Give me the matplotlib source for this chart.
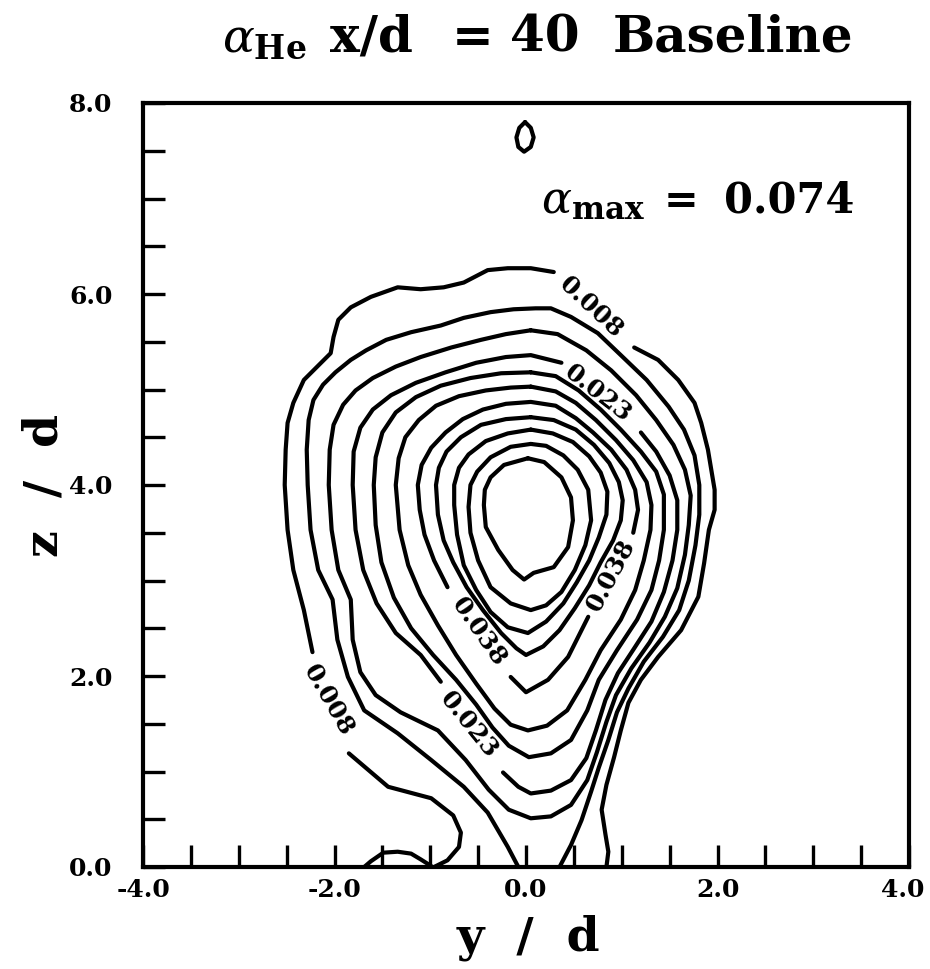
import numpy as np
import matplotlib
matplotlib.use('Agg')
import matplotlib.pyplot as plt
import matplotlib.transforms as mtransforms

plt.rcParams['font.family'] = ['DejaVu Serif']
plt.rcParams['mathtext.fontset'] = 'dejavuserif'
plt.rcParams['axes.unicode_minus'] = False

nan = np.nan

# contour level values (helium mole fraction)
levels = [0.008, 0.013, 0.018, 0.023, 0.028, 0.033, 0.038, 0.043, 0.048, 0.053, 0.058]

# traced contour lines, (y/d, z/d) pairs; (nan, nan) = gap for a label
c008 = [(-0.96,0.00),(-0.82,0.07),(-0.70,0.21),(-0.68,0.36),(-0.76,0.54),(-0.99,0.72),(-1.44,0.84),(-1.85,1.19),(nan,nan),
        (-2.23,2.25),(-2.32,2.69),(-2.43,3.11),(-2.49,3.53),(-2.52,4.00),(-2.51,4.37),(-2.49,4.65),(-2.43,4.86),(-2.32,5.10),
        (-2.18,5.24),(-2.04,5.38),(-2.01,5.55),(-1.96,5.73),(-1.83,5.86),(-1.62,5.97),(-1.34,6.07),(-1.10,6.05),(-0.86,6.07),
        (-0.65,6.12),(-0.40,6.25),(-0.19,6.27),(0.05,6.27),(0.29,6.23),(nan,nan),
        (1.13,5.44),(1.38,5.31),(1.59,5.10),(1.76,4.86),(1.83,4.65),(1.90,4.37),(1.97,3.95),(1.97,3.74),(1.91,3.53),(1.86,3.18),
        (1.80,2.83),(1.62,2.48),(1.38,2.20),(1.20,1.96),(1.07,1.72),(0.99,1.43),(0.92,1.15),(0.84,0.86),(0.79,0.60),(0.83,0.34),
        (0.86,0.16),(0.84,0.00)]
c008_wall = [(-1.69,0.00),(-1.62,0.06),(-1.49,0.15),(-1.34,0.16),(-1.20,0.14),(-1.10,0.08),(-0.99,0.01)]
c013 = [(-0.08,0.00),(-0.19,0.21),(-0.40,0.57),(-0.65,0.84),(-0.99,1.12),(-1.34,1.40),(-1.69,1.64),(-1.86,1.99),(-1.97,2.38),
        (-2.02,2.80),(-2.17,3.11),(-2.25,3.53),(-2.28,4.00),(-2.29,4.37),(-2.27,4.68),(-2.22,4.89),(-2.12,5.05),(-1.99,5.18),
        (-1.83,5.31),(-1.67,5.41),(-1.46,5.52),(-1.20,5.60),(-0.89,5.67),(-0.65,5.75),(-0.37,5.81),(-0.13,5.84),(0.10,5.85),
        (0.26,5.85),(0.47,5.76),(0.75,5.59),(0.99,5.36),(1.26,5.10),(1.49,4.82),(1.65,4.58),(1.76,4.31),(1.81,4.00),(1.81,3.69),
        (1.77,3.37),(1.70,3.00),(1.60,2.69),(1.43,2.41),(1.23,2.15),(1.07,1.87),(0.95,1.62),(0.86,1.33),(0.76,1.04),(0.68,0.79),
        (0.58,0.49),(0.47,0.23),(0.35,0.00)]
c018 = [(0.05,5.62),(0.33,5.58),(0.63,5.41),(0.89,5.20),(1.15,4.94),(1.36,4.68),(1.54,4.42),(1.66,4.16),(1.72,3.89),(1.70,3.58),
        (1.66,3.27),(1.58,2.92),(1.45,2.62),(1.29,2.35),(1.10,2.08),(0.94,1.80),(0.84,1.52),(0.74,1.20),(0.64,0.91),(0.47,0.65),
        (0.26,0.53),(0.05,0.51),(-0.18,0.60),(-0.39,0.81),(-0.63,1.12),(-0.92,1.43),(-1.31,1.62),(-1.57,1.80),(-1.73,2.04),
        (-1.81,2.38),(-1.83,2.80),(-1.96,3.11),(-2.03,3.53),(-2.06,4.00),(-2.05,4.37),(-2.01,4.63),(-1.91,4.84),(-1.78,4.99),
        (-1.60,5.12),(-1.36,5.24),(-1.10,5.34),(-0.78,5.44),(-0.47,5.52),(-0.21,5.58),(0.05,5.62)]
c023 = [(1.20,4.55),(1.36,4.35),(1.50,4.10),(1.58,3.84),(1.58,3.53),(1.53,3.21),(1.44,2.88),(1.31,2.57),(1.13,2.29),(0.96,2.03),
        (0.83,1.75),(0.73,1.43),(0.63,1.14),(0.47,0.91),(0.26,0.80),(0.05,0.77),(-0.08,0.84),(-0.24,0.99),(nan,nan),
        (-0.89,1.94),(-1.10,2.22),(-1.36,2.45),(-1.56,2.76),(-1.70,3.11),(-1.78,3.53),(-1.81,4.00),(-1.80,4.35),(-1.73,4.60),
        (-1.60,4.79),(-1.41,4.94),(-1.15,5.07),(-0.84,5.18),(-0.52,5.28),(-0.21,5.34),(0.05,5.36),(0.37,5.28)]
c028 = [(0.05,5.18),(0.31,5.14),(0.55,4.99),(0.78,4.79),(0.99,4.58),(1.20,4.35),(1.36,4.14),(1.44,3.90),(1.44,3.53),(1.39,3.21),
        (1.31,2.90),(1.16,2.59),(0.95,2.27),(0.76,1.96),(0.64,1.64),(0.47,1.33),(0.26,1.19),(0.03,1.15),(-0.18,1.27),(-0.35,1.46),
        (-0.52,1.70),(-0.73,1.96),(-0.97,2.22),(-1.20,2.50),(-1.38,2.82),(-1.51,3.19),(-1.57,3.58),(-1.59,4.00),(-1.57,4.29),
        (-1.50,4.55),(-1.36,4.76),(-1.15,4.92),(-0.89,5.04),(-0.58,5.12),(-0.26,5.17),(0.05,5.18)]
c033 = [(0.05,5.03),(0.31,4.98),(0.52,4.86),(0.73,4.68),(0.94,4.47),(1.12,4.26),(1.26,4.03),(1.31,3.79),(1.30,3.53),(1.23,3.21),
        (1.14,2.90),(0.99,2.59),(0.78,2.27),(0.62,1.96),(0.43,1.64),(0.22,1.48),(0.02,1.43),(-0.16,1.49),(-0.33,1.66),(-0.52,1.92),
        (-0.73,2.22),(-0.92,2.53),(-1.10,2.85),(-1.23,3.16),(-1.32,3.53),(-1.36,4.00),(-1.33,4.28),(-1.26,4.50),(-1.12,4.68),
        (-0.94,4.83),(-0.70,4.93),(-0.42,4.99),(-0.16,5.02),(0.05,5.03)]
c038 = [(-0.16,1.99),(0.00,1.83),(0.23,1.96),(0.44,2.20),(0.65,2.62),(nan,nan),
        (1.12,3.50),(1.17,3.74),(1.14,3.95),(1.05,4.16),(0.89,4.37),(0.70,4.55),(0.52,4.70),(0.31,4.83),(0.05,4.87),(-0.21,4.85),
        (-0.45,4.79),(-0.66,4.69),(-0.84,4.55),(-0.99,4.39),(-1.09,4.21),(-1.13,4.00),(-1.11,3.74),(-1.06,3.48),(-0.96,3.21),
        (-0.82,2.93)]
c043 = [(0.05,4.71),(0.29,4.68),(0.52,4.58),(0.71,4.42),(0.87,4.23),(0.97,4.03),(1.01,3.84),(0.99,3.63),(0.91,3.42),(0.78,3.19),
        (0.66,2.95),(0.51,2.71),(0.35,2.48),(0.18,2.31),(0.00,2.22),(-0.10,2.29),(-0.26,2.45),(-0.45,2.69),(-0.62,2.93),(-0.76,3.19),
        (-0.86,3.42),(-0.92,3.69),(-0.94,4.00),(-0.91,4.18),(-0.83,4.35),(-0.68,4.50),(-0.47,4.63),(-0.21,4.69),(0.05,4.71)]
c048 = [(0.05,4.58),(0.28,4.54),(0.49,4.45),(0.66,4.30),(0.78,4.13),(0.85,3.93),(0.84,3.69),(0.76,3.45),(0.66,3.21),(0.53,2.98),
        (0.39,2.76),(0.21,2.57),(0.02,2.45),(-0.19,2.51),(-0.37,2.67),(-0.52,2.90),(-0.65,3.16),(-0.72,3.48),(-0.75,3.79),(-0.75,4.00),
        (-0.70,4.18),(-0.60,4.32),(-0.42,4.46),(-0.19,4.54),(0.05,4.58)]
c053 = [(0.05,4.43),(0.21,4.41),(0.39,4.31),(0.54,4.16),(0.65,3.95),(0.68,3.63),(0.62,3.37),(0.51,3.11),(0.37,2.88),(0.21,2.74),
        (0.05,2.69),(-0.16,2.76),(-0.37,2.93),(-0.50,3.21),(-0.58,3.50),(-0.60,3.77),(-0.58,4.00),(-0.51,4.14),(-0.37,4.29),
        (-0.16,4.40),(0.05,4.43)]
c058 = [(0.02,4.28),(0.19,4.24),(0.37,4.08),(0.47,3.87),(0.49,3.63),(0.44,3.35),(0.29,3.14),(0.08,3.08),(-0.02,3.01),(-0.14,3.11),
        (-0.29,3.32),(-0.42,3.56),(-0.44,3.79),(-0.43,3.95),(-0.37,4.08),(-0.23,4.21),(0.02,4.28)]
small_loop = [(-0.01,7.80),(0.05,7.74),(0.08,7.64),(0.05,7.54),(-0.02,7.49),(-0.08,7.54),(-0.10,7.64),(-0.07,7.74),(-0.01,7.80)]

contours = [c008, c008_wall, c013, c018, c023, c028, c033, c038, c043, c048, c053, c058, small_loop]

# contour labels: text, y/d, z/d, angle
label_text = ['0.008', '0.023', '0.008', '0.023', '0.038', '0.038']
label_y = [0.68, 0.75, -2.06, -0.60, -0.49, 0.89]
label_z = [5.86, 4.96, 1.75, 1.49, 2.46, 3.06]
label_rot = [-43, -38, -60, -51, -55, 62]

x_ticks_major = [-4.0, -2.0, 0.0, 2.0, 4.0]
x_tick_labels = ['-4.0', '-2.0', '0.0', '2.0', '4.0']
z_ticks_major = [0.0, 2.0, 4.0, 6.0, 8.0]
z_tick_labels = ['0.0', '2.0', '4.0', '6.0', '8.0']
alpha_max = '0.074'

W, H = 930, 969
fig = plt.figure(figsize=(W/100, H/100), dpi=100)
ax = fig.add_axes([143/W, 1-867/H, (909-143)/W, (867-103)/H])
ax.set_xlim(-4, 4)
ax.set_ylim(0, 8)

for c in contours:
    a = np.array(c, dtype=float)
    ax.plot(a[:, 0], a[:, 1], color='black', lw=3.0, solid_joinstyle='round', solid_capstyle='round')

for t, yy, zz, r in zip(label_text, label_y, label_z, label_rot):
    ax.text(yy, zz, t, rotation=r, rotation_mode='anchor', ha='center', va='center',
            fontsize=18, fontweight='bold')

ax.set_xticks(x_ticks_major)
ax.set_xticklabels(x_tick_labels, fontsize=18, fontweight='bold')
ax.set_yticks(z_ticks_major)
ax.set_yticklabels(z_tick_labels, fontsize=18, fontweight='bold')
ax.set_xticks(np.arange(-4, 4.01, 0.5), minor=True)
ax.set_yticks(np.arange(0, 8.01, 0.5), minor=True)
ax.tick_params(which='both', direction='in', length=16, width=2.4, top=False, right=False)
ax.tick_params(axis='x', which='major', pad=8)
ax.tick_params(axis='y', which='major', pad=22)
for s in ax.spines.values():
    s.set_linewidth(3.0)

# keep the last x tick label inside the figure
last = ax.get_xticklabels()[-1]
last.set_transform(last.get_transform() + mtransforms.ScaledTranslation(-6/100, 0, fig.dpi_scale_trans))

# alpha_max annotation
ax.text(0.16, 6.85, r'$\alpha_{\mathbf{max}}$', fontsize=32, ha='left', va='baseline')
ax.text(1.44, 6.85, '=', fontsize=30, fontweight='bold', ha='left', va='baseline')
ax.text(2.07, 6.85, alpha_max, fontsize=30, fontweight='bold', ha='left', va='baseline')

# title pieces
ty = 1 - 52/H
fig.text(222/W, ty, r'$\alpha_{\mathbf{He}}$', fontsize=34, ha='left', va='baseline')
fig.text(330/W, ty, 'x/d', fontsize=36, fontweight='bold', ha='left', va='baseline')
fig.text(452/W, ty, '=', fontsize=36, fontweight='bold', ha='left', va='baseline')
fig.text(510/W, ty, '40', fontsize=36, fontweight='bold', ha='left', va='baseline')
fig.text(613/W, ty, 'Baseline', fontsize=36, fontweight='bold', ha='left', va='baseline')

# axis labels
fig.text(528/W, 1-938/H, 'y  /  d', fontsize=34, fontweight='bold', ha='center', va='center')
fig.text(45/W, 1-485/H, 'z  /  d', fontsize=34, fontweight='bold', ha='center', va='center', rotation=90)

fig.savefig('out.png', dpi=100)
